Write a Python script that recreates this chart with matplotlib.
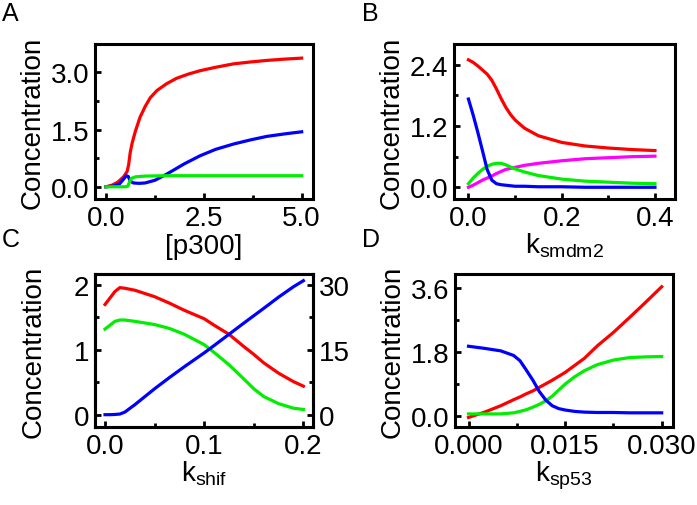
import numpy as np
import matplotlib
matplotlib.use("Agg")
import matplotlib.pyplot as plt
from matplotlib.ticker import MultipleLocator

plt.rcParams['font.family'] = ['Liberation Sans', 'DejaVu Sans']
plt.rcParams['mathtext.fontset'] = 'custom'
plt.rcParams['mathtext.rm'] = 'Liberation Sans'
plt.rcParams['mathtext.it'] = 'Liberation Sans'

RED = '#ff0000'
BLUE = '#0000ff'
GREEN = '#00ee00'
MAGENTA = '#ff00ff'

# panel A: [p300]
a_x = [0.0, 0.15, 0.3, 0.45, 0.54, 0.58, 0.62, 0.67, 0.75, 0.87, 1.0, 1.13, 1.3, 1.55, 1.8, 2.1, 2.4, 2.8, 3.26, 3.7, 4.11, 4.5, 5.0]
a_red = [0.0, 0.04, 0.12, 0.26, 0.4, 0.58, 0.9, 1.15, 1.45, 1.82, 2.1, 2.33, 2.52, 2.7, 2.84, 2.95, 3.04, 3.13, 3.22, 3.27, 3.31, 3.34, 3.37]
a_blue_x = [0.0, 0.2, 0.35, 0.45, 0.52, 0.57, 0.62, 0.7, 0.85, 1.0, 1.25, 1.55, 2.0, 2.4, 2.8, 3.26, 3.7, 4.11, 4.6, 5.0]
a_blue = [0.0, 0.02, 0.08, 0.2, 0.29, 0.27, 0.15, 0.1, 0.09, 0.1, 0.17, 0.33, 0.6, 0.81, 0.98, 1.12, 1.23, 1.32, 1.39, 1.44]
a_green_x = [0.0, 0.3, 0.5, 0.56, 0.6, 0.65, 0.75, 1.0, 1.5, 2.5, 3.5, 5.0]
a_green = [0.0, 0.0, 0.0, 0.02, 0.12, 0.22, 0.26, 0.28, 0.29, 0.29, 0.29, 0.29]

# panel B: k_smdm2
b_x = [0.0, 0.01, 0.02, 0.03, 0.04, 0.05, 0.06, 0.07, 0.08, 0.09, 0.1, 0.12, 0.15, 0.2, 0.25, 0.3, 0.35, 0.4]
b_red = [2.5, 2.45, 2.38, 2.3, 2.22, 2.1, 1.93, 1.74, 1.57, 1.43, 1.32, 1.16, 1.01, 0.88, 0.81, 0.77, 0.74, 0.72]
b_blue = [1.73, 1.42, 1.08, 0.72, 0.35, 0.14, 0.07, 0.05, 0.04, 0.03, 0.02, 0.02, 0.01, 0.01, 0.0, 0.0, 0.0, 0.0]
b_green = [0.07, 0.18, 0.27, 0.35, 0.41, 0.45, 0.47, 0.47, 0.44, 0.4, 0.36, 0.3, 0.23, 0.16, 0.12, 0.1, 0.08, 0.07]
b_magenta = [0.0, 0.04, 0.09, 0.14, 0.18, 0.22, 0.27, 0.31, 0.35, 0.37, 0.39, 0.43, 0.47, 0.52, 0.56, 0.58, 0.6, 0.61]

# panel C: k_shif (blue on right axis)
c_x = [0.0, 0.005, 0.01, 0.015, 0.02, 0.03, 0.05, 0.065, 0.08, 0.1, 0.11, 0.125, 0.14, 0.15, 0.16, 0.175, 0.19, 0.2]
c_red = [1.7, 1.8, 1.9, 1.96, 1.95, 1.92, 1.82, 1.72, 1.61, 1.48, 1.38, 1.24, 1.05, 0.93, 0.8, 0.64, 0.51, 0.44]
c_green = [1.32, 1.38, 1.44, 1.46, 1.46, 1.44, 1.39, 1.33, 1.24, 1.08, 0.96, 0.77, 0.55, 0.4, 0.28, 0.17, 0.1, 0.08]
c_blue = [0.0, 0.0, 0.05, 0.15, 0.6, 2.3, 6.0, 8.6, 11.1, 14.3, 16.0, 18.6, 21.2, 22.9, 24.6, 27.2, 29.6, 31.0]

# panel D: k_sp53
d_x = [0.0, 0.0025, 0.005, 0.007, 0.008, 0.009, 0.01, 0.011, 0.012, 0.013, 0.014, 0.015, 0.0165, 0.018, 0.02, 0.0225, 0.025, 0.0275, 0.03]
d_red = [-0.05, 0.1, 0.28, 0.45, 0.53, 0.62, 0.7, 0.8, 0.9, 1.0, 1.11, 1.22, 1.42, 1.62, 1.97, 2.35, 2.77, 3.2, 3.64]
d_blue = [1.96, 1.9, 1.83, 1.7, 1.55, 1.28, 1.0, 0.68, 0.44, 0.28, 0.2, 0.16, 0.12, 0.1, 0.09, 0.09, 0.08, 0.08, 0.08]
d_green = [0.05, 0.05, 0.05, 0.08, 0.12, 0.17, 0.24, 0.32, 0.42, 0.55, 0.72, 0.89, 1.1, 1.27, 1.44, 1.57, 1.64, 1.66, 1.67]

FS = 20
LW = 2.3


def style(ax, xmaj, ymaj):
    ax.xaxis.set_major_locator(MultipleLocator(xmaj))
    ax.xaxis.set_minor_locator(MultipleLocator(xmaj / 2))
    ax.yaxis.set_major_locator(MultipleLocator(ymaj))
    ax.yaxis.set_minor_locator(MultipleLocator(ymaj / 2))
    ax.tick_params(which='both', direction='in', top=False, right=False, labelsize=FS, width=2, pad=4)
    ax.tick_params(which='major', length=4)
    ax.tick_params(which='minor', length=3)
    for s in ax.spines.values():
        s.set_linewidth(2.2)


W, H = 697, 506
fig = plt.figure(figsize=(W / 100, H / 100), dpi=100)


def box(l, r, t, b):
    return [l / W, 1 - b / H, (r - l) / W, (b - t) / H]


axA = fig.add_axes(box(95, 313, 45, 200))
axA.plot(a_x, a_red, color=RED, lw=LW)
axA.plot(a_blue_x, a_blue, color=BLUE, lw=LW)
axA.plot(a_green_x, a_green, color=GREEN, lw=LW)
axA.set_xlim(-0.28, 5.29)
axA.set_ylim(-0.32, 3.74)
style(axA, 2.5, 1.5)
axA.xaxis.set_major_formatter(plt.FormatStrFormatter('%.1f'))
axA.yaxis.set_major_formatter(plt.FormatStrFormatter('%.1f'))
axA.set_xlabel('[p300]', fontsize=FS, labelpad=2)
axA.set_ylabel('Concentration', fontsize=FS, labelpad=4)

axB = fig.add_axes(box(454, 675, 45, 200))
axB.plot(b_x, b_red, color=RED, lw=LW)
axB.plot(b_x, b_magenta, color=MAGENTA, lw=LW)
axB.plot(b_x, b_green, color=GREEN, lw=LW)
axB.plot(b_x, b_blue, color=BLUE, lw=LW)
axB.set_xlim(-0.031, 0.443)
axB.set_ylim(-0.23, 2.81)
style(axB, 0.2, 1.2)
axB.xaxis.set_major_formatter(plt.FormatStrFormatter('%.1f'))
axB.yaxis.set_major_formatter(plt.FormatStrFormatter('%.1f'))
axB.set_xlabel(r'$\mathregular{k_{smdm2}}$', fontsize=FS, labelpad=0)
axB.set_ylabel('Concentration', fontsize=FS, labelpad=4)

axC = fig.add_axes(box(95, 313, 275, 428))
axC.plot(c_x, c_red, color=RED, lw=LW)
axC.plot(c_x, c_green, color=GREEN, lw=LW)
axC.set_xlim(-0.0101, 0.2097)
axC.set_ylim(-0.19, 2.17)
style(axC, 0.1, 1)
axC.xaxis.set_major_formatter(plt.FormatStrFormatter('%.1f'))
axC.set_xlabel(r'$\mathregular{k_{shif}}$', fontsize=FS, labelpad=0)
axC.set_ylabel('Concentration', fontsize=FS, labelpad=20)
axC2 = axC.twinx()
axC2.plot(c_x, c_blue, color=BLUE, lw=LW)
axC2.set_ylim(-0.19 * 15, 2.17 * 15)
axC2.yaxis.set_major_locator(MultipleLocator(15))
axC2.yaxis.set_minor_locator(MultipleLocator(7.5))
axC2.tick_params(which='both', direction='in', labelsize=FS, width=2, pad=4)
axC2.tick_params(which='major', length=4)
axC2.tick_params(which='minor', length=3)
for s in axC2.spines.values():
    s.set_linewidth(2.2)

axD = fig.add_axes(box(455, 673, 275, 428))
axD.plot(d_x, d_red, color=RED, lw=LW)
axD.plot(d_x, d_green, color=GREEN, lw=LW)
axD.plot(d_x, d_blue, color=BLUE, lw=LW)
axD.set_xlim(-0.0021, 0.03176)
axD.set_ylim(-0.32, 4.0)
style(axD, 0.015, 1.8)
axD.xaxis.set_major_formatter(plt.FormatStrFormatter('%.3f'))
axD.yaxis.set_major_formatter(plt.FormatStrFormatter('%.1f'))
axD.set_xlabel(r'$\mathregular{k_{sp53}}$', fontsize=FS, labelpad=0)
axD.set_ylabel('Concentration', fontsize=FS, labelpad=4)

for lab, x, y in [('A', 2, 2), ('B', 362, 2), ('C', 2, 228), ('D', 362, 228)]:
    fig.text(x / W, 1 - y / H, lab, fontsize=18, ha='left', va='top')

fig.savefig('out.png', dpi=100)
